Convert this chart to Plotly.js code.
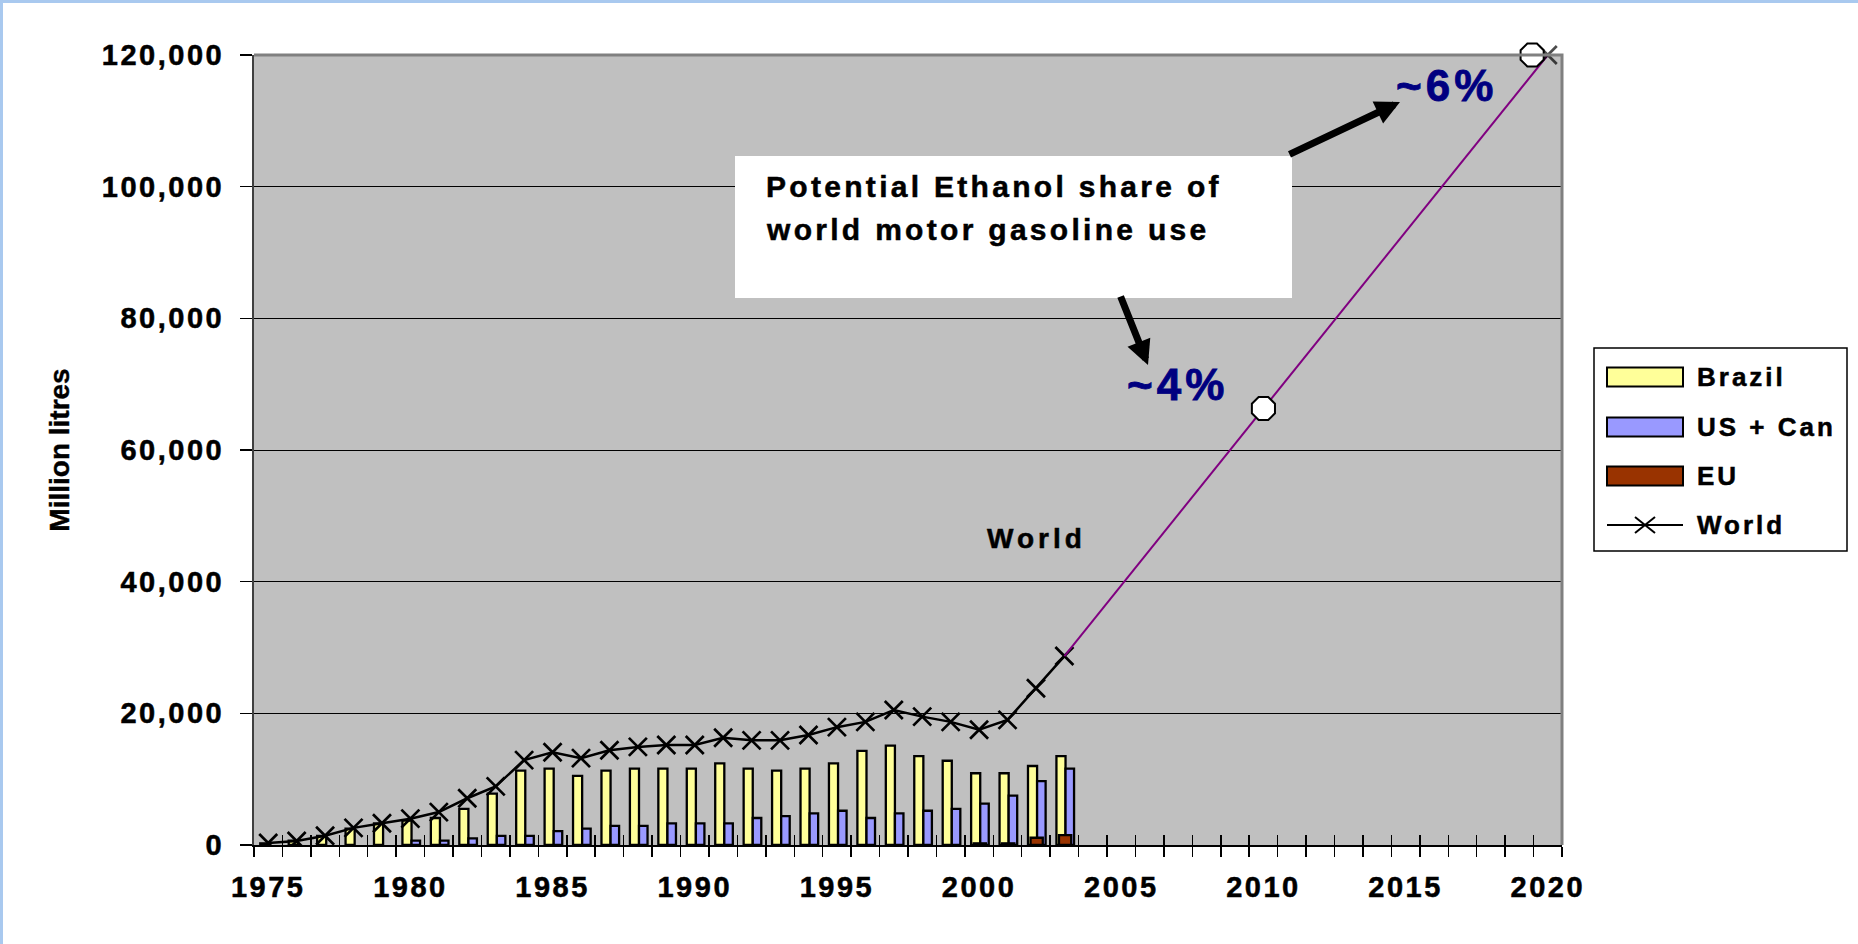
<!DOCTYPE html>
<html>
<head>
<meta charset="utf-8">
<script src="https://cdn.plot.ly/plotly-3.0.1.min.js"></script>
<style>
html,body{margin:0;padding:0;background:#fff;}
#chart{position:absolute;left:0;top:0;width:1858px;height:944px;}
#frame{position:absolute;left:0;top:0;width:1858px;height:944px;box-sizing:border-box;border-left:3px solid #a9c9ef;border-top:3px solid #a9c9ef;pointer-events:none;}
.xtick text,.ytick text{letter-spacing:2.5px;stroke:#000;stroke-width:0.5px;}
.ytitle{stroke:#000;stroke-width:0.4px;}
</style>
</head>
<body>
<div id="chart"></div>
<div id="frame"></div>
<script>
// ---- data (million litres) ----
const years = [1975,1976,1977,1978,1979,1980,1981,1982,1983,1984,1985,1986,1987,1988,1989,1990,1991,1992,1993,1994,1995,1996,1997,1998,1999,2000,2001,2002,2003];
const brazil = [250,650,1400,2500,3300,3700,4100,5500,7800,11300,11600,10500,11300,11600,11600,11600,12400,11600,11300,11600,12400,14300,15100,13500,12800,10900,10900,12000,13500];
const usCan = [null,null,null,null,null,650,650,1000,1400,1400,2100,2500,2900,2900,3300,3300,3300,4100,4400,4800,5200,4100,4800,5200,5500,6300,7500,9700,11600];
const eu = [null,null,null,null,null,null,null,null,null,null,null,null,null,null,null,null,null,null,null,null,null,null,null,null,null,250,250,1100,1500];
const world = [300,600,1400,2600,3300,4000,5000,7100,8900,12900,14100,13200,14400,14900,15200,15200,16300,15900,15900,16700,17900,18700,20500,19500,18700,17500,19000,23800,28700];
const projYears = [2003,2020];
const projValues = [28700,120000];
const shareYears = [2010,2019.45];
const shareValues = [66300,120000];
const shareLabels = ['~4%','~6%'];
const labelYears = [1975,1980,1985,1990,1995,2000,2005,2010,2015,2020];
const yTicks = [0,20000,40000,60000,80000,100000,120000];
const legendNames = ['Brazil','US + Can','EU','World'];
const legendColors = ['#FFFF99','#9999FF','#993300'];

// ---- geometry helpers (pixel -> paper) ----
const W=1858,H=944,L=254,R=1562,T=55,B=845;
const PX = x => (x-L)/(R-L);
const PY = y => (B-y)/(B-T);
const FONT = '"Liberation Sans", Arial, sans-serif';
const sp = (t,s,c,w) => '<span style="letter-spacing:'+s+'px;stroke:'+c+';stroke-width:'+w+'px">'+t+'</span>';

const outline = {color:'#000', width:2.3};
const traces = [
  {type:'bar', name:legendNames[0], x:years, y:brazil, offset:-0.28, width:0.32,
   marker:{color:legendColors[0], line:outline}},
  {type:'bar', name:legendNames[1], x:years, y:usCan, offset:0.04, width:0.30,
   marker:{color:legendColors[1], line:outline}},
  {type:'bar', name:legendNames[2], x:years, y:eu, offset:-0.19, width:0.43,
   marker:{color:legendColors[2], line:outline}},
  {type:'scatter', mode:'lines+markers', name:legendNames[3], x:years, y:world,
   line:{color:'#000', width:2.5},
   marker:{symbol:'x-thin-open', size:18, color:'#000', line:{color:'#000', width:2.7}}},
  {type:'scatter', mode:'lines+markers', name:'World projection', x:projYears, y:projValues,
   cliponaxis:false, line:{color:'#800080', width:2},
   marker:{symbol:'x-thin-open', size:[0,18], color:'#000', line:{color:'#000', width:2.7}}},
  {type:'scatter', mode:'markers', name:'share', x:shareYears, y:shareValues, cliponaxis:false,
   marker:{symbol:'octagon', size:25, color:'#fff', line:{color:'#000', width:2}}},
  {type:'scatter', mode:'markers', x:[2000], y:[null], xaxis:'x2', hoverinfo:'skip', showlegend:false}
];

const shapes = [
  {type:'path', xref:'paper', yref:'paper', path:'M0,1 L1,1 L1,0', line:{color:'#808080', width:3}, layer:'above'},
  {type:'rect', xref:'paper', yref:'paper', x0:PX(735), x1:PX(1292), y0:PY(298), y1:PY(156),
   fillcolor:'#fff', line:{width:0}, layer:'above'},
  {type:'rect', xref:'paper', yref:'paper', x0:PX(1594), x1:PX(1847), y0:PY(551), y1:PY(348),
   fillcolor:'#fff', line:{color:'#000', width:1.5}, layer:'above'}
];
const annotations = [];
const legendY = [377,427,476,525];
for (let i=0;i<3;i++){
  shapes.push({type:'rect', xref:'paper', yref:'paper', x0:PX(1607), x1:PX(1683),
    y0:PY(legendY[i]+9.5), y1:PY(legendY[i]-9.5), fillcolor:legendColors[i],
    line:{color:'#000', width:2}, layer:'above'});
}
shapes.push({type:'line', xref:'paper', yref:'paper', x0:PX(1607), x1:PX(1683), y0:PY(525), y1:PY(525), line:{color:'#000', width:2}, layer:'above'});
shapes.push({type:'line', xref:'paper', yref:'paper', x0:PX(1635), x1:PX(1655), y0:PY(517), y1:PY(533), line:{color:'#000', width:2}, layer:'above'});
shapes.push({type:'line', xref:'paper', yref:'paper', x0:PX(1635), x1:PX(1655), y0:PY(533), y1:PY(517), line:{color:'#000', width:2}, layer:'above'});
for (let i=0;i<4;i++){
  annotations.push({xref:'paper', yref:'paper', x:PX(1695), y:PY(legendY[i]), xanchor:'left', yanchor:'middle',
    showarrow:false, text:sp(legendNames[i],3,'#000',0.5), font:{family:FONT, size:26, weight:'bold', color:'#000'}});
}
annotations.push({xref:'paper', yref:'paper', x:PX(764), y:PY(186), xanchor:'left', yanchor:'middle', showarrow:false,
  text:sp('Potential Ethanol share of',3.3,'#000',0.5), font:{family:FONT, size:30, weight:'bold', color:'#000'}});
annotations.push({xref:'paper', yref:'paper', x:PX(764), y:PY(230), xanchor:'left', yanchor:'middle', showarrow:false,
  text:sp('world motor gasoline use',3.3,'#000',0.5), font:{family:FONT, size:30, weight:'bold', color:'#000'}});
annotations.push({xref:'paper', yref:'paper', x:PX(1177), y:PY(384), xanchor:'center', yanchor:'middle', showarrow:false,
  text:sp(shareLabels[0],4,'#000080',0.8), font:{family:FONT, size:44, weight:'bold', color:'#000080'}});
annotations.push({xref:'paper', yref:'paper', x:PX(1446), y:PY(86), xanchor:'center', yanchor:'middle', showarrow:false,
  text:sp(shareLabels[1],4,'#000080',0.8), font:{family:FONT, size:44, weight:'bold', color:'#000080'}});
annotations.push({xref:'paper', yref:'paper', x:PX(1400), y:PY(102), ax:-112, ay:53, text:'', showarrow:true,
  arrowhead:2, arrowsize:0.7, arrowwidth:7, arrowcolor:'#000', standoff:0});
annotations.push({xref:'paper', yref:'paper', x:PX(1148), y:PY(365), ax:-28, ay:-70, text:'', showarrow:true,
  arrowhead:2, arrowsize:0.7, arrowwidth:7, arrowcolor:'#000', standoff:0});
annotations.push({xref:'paper', yref:'paper', x:PX(1036), y:PY(538), xanchor:'center', yanchor:'middle', showarrow:false,
  text:sp('World',4,'#000',0.5), font:{family:FONT, size:28, weight:'bold', color:'#000'}});

const tickFont = {family:FONT, size:29, weight:'bold', color:'#000'};
const layout = {
  width:W, height:H,
  margin:{l:L, r:W-R, t:T, b:H-B, pad:0},
  paper_bgcolor:'#fff', plot_bgcolor:'#c0c0c0',
  showlegend:false, barmode:'overlay', hovermode:false,
  font:{family:FONT, color:'#000'},
  xaxis:{range:[1974.5,2020.5], tickmode:'array', tickvals:labelYears, ticktext:labelYears.map(String),
    ticks:'', showgrid:false, zeroline:false, showline:true, linecolor:'#000', linewidth:2,
    tickfont:tickFont, ticklabelstandoff:15,
    minor:{tickmode:'linear', tick0:1974.5, dtick:1, ticks:'outside', ticklen:10, tickwidth:1.5, tickcolor:'#000', showgrid:false}},
  xaxis2:{overlaying:'x', anchor:'y', side:'bottom', range:[1974.5,2020.5], tickmode:'linear', tick0:1974.5, dtick:1,
    ticks:'inside', ticklen:10, tickwidth:1.5, tickcolor:'#000', showticklabels:false, showgrid:false, zeroline:false, showline:false},
  yaxis:{range:[0,120000], tickmode:'array', tickvals:yTicks, tickformat:',d',
    ticks:'outside', ticklen:12, tickwidth:1.5, tickcolor:'#000',
    showgrid:true, gridcolor:'#000', gridwidth:1, zeroline:false,
    showline:true, linecolor:'#404040', linewidth:2,
    tickfont:tickFont, ticklabelstandoff:10,
    title:{text:'Million litres', font:{family:FONT, size:28, weight:'bold', color:'#000'}, standoff:24}},
  shapes:shapes, annotations:annotations
};
Plotly.newPlot('chart', traces, layout, {displayModeBar:false, staticPlot:true});
</script>
</body>
</html>
